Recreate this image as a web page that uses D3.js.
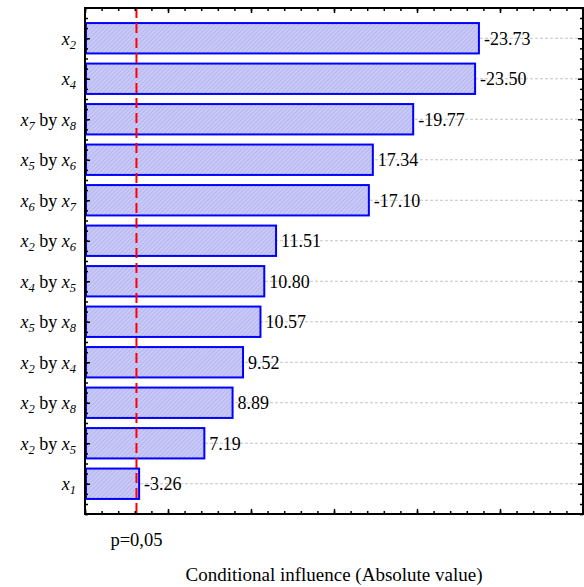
<!DOCTYPE html>
<html>
<head>
<meta charset="utf-8">
<script src="https://cdn.jsdelivr.net/npm/d3@7"></script>
<style>
  html, body { margin: 0; padding: 0; background: #fff; }
  svg { display: block; }
  text { font-family: "Liberation Serif", "Times New Roman", "DejaVu Serif", serif; fill: #000; }
</style>
</head>
<body>
<svg id="chart" width="584" height="587"></svg>
<script>
// ---- data ----
const categories = [
  [["x","2"]],
  [["x","4"]],
  [["x","7"],["x","8"]],
  [["x","5"],["x","6"]],
  [["x","6"],["x","7"]],
  [["x","2"],["x","6"]],
  [["x","4"],["x","5"]],
  [["x","5"],["x","8"]],
  [["x","2"],["x","4"]],
  [["x","2"],["x","8"]],
  [["x","2"],["x","5"]],
  [["x","1"]]
];
const values = [-23.73, -23.50, -19.77, 17.34, -17.10, 11.51, 10.80, 10.57, 9.52, 8.89, 7.19, -3.26];
const pValue = 3.1;
const pLabel = "p=0,05";
const xTitle = "Conditional influence (Absolute value)";
const xMajorTicks = [0, 5, 10, 15, 20, 25, 30];
const xMinorTicks = d3.range(0, 31, 1);

// ---- layout ----
const L = 85, R = 583, T = 8, B = 514;
const svg = d3.select("#chart");

const keys = categories.map((c, i) => "c" + i);
const x = d3.scaleLinear().domain([0, 30]).range([L, R]);
const y = d3.scaleBand().domain(keys).range([18, 504]).paddingInner(0.25).paddingOuter(0.125);
const yIdx = d3.scaleLinear().domain([-0.5, 11.5]).range([18, 504]);
const yMinor = d3.range(-0.75, 11.76, 0.25);

// hatch pattern
const defs = svg.append("defs");
const pat = defs.append("pattern").attr("id", "hatch").attr("patternUnits", "userSpaceOnUse")
  .attr("width", 3).attr("height", 3).attr("patternTransform", "rotate(-45)");
pat.append("rect").attr("width", 3).attr("height", 3).attr("fill", "#caCAf8");
pat.append("line").attr("x1", 0).attr("y1", 0).attr("x2", 3).attr("y2", 0)
  .attr("stroke", "#a2a2e8").attr("stroke-width", 1.1);

// gridlines
svg.append("g").selectAll("line").data(keys).join("line")
  .attr("x1", L).attr("x2", R)
  .attr("y1", d => y(d) + y.bandwidth() / 2).attr("y2", d => y(d) + y.bandwidth() / 2)
  .attr("stroke", "#c4c4c4").attr("stroke-width", 1).attr("stroke-dasharray", "3,2");

// bars
svg.append("g").selectAll("rect").data(values).join("rect")
  .attr("x", x(0) + 1)
  .attr("y", (d, i) => y(keys[i]))
  .attr("width", d => x(Math.abs(d)) - x(0) - 1)
  .attr("height", y.bandwidth())
  .attr("fill", "url(#hatch)")
  .attr("stroke", "#0000ff").attr("stroke-width", 2);

// value labels
svg.append("g").selectAll("text").data(values).join("text")
  .attr("x", d => x(Math.abs(d)) + 5)
  .attr("y", (d, i) => y(keys[i]) + y.bandwidth() / 2)
  .attr("dy", "0.35em")
  .attr("font-size", 18)
  .text(d => d.toFixed(2));

// p line
svg.append("line")
  .attr("x1", x(pValue)).attr("x2", x(pValue)).attr("y1", T).attr("y2", B)
  .attr("stroke", "#ff0000").attr("stroke-width", 2).attr("stroke-dasharray", "10,5");

// axes frame with inward ticks
function addAxis(axisFn, tr, vals, scale, size) {
  const g = svg.append("g").attr("transform", tr)
    .call(axisFn(scale).tickValues(vals).tickSize(size).tickSizeOuter(0).tickFormat(""));
  g.select(".domain").remove();
  g.selectAll("text").remove();
  g.selectAll("line").attr("stroke", "#000").attr("stroke-width", 1.5);
  return g;
}
addAxis(d3.axisBottom, `translate(0,${B})`, xMinorTicks, x, -3);
addAxis(d3.axisBottom, `translate(0,${B})`, xMajorTicks, x, -5);
addAxis(d3.axisTop, `translate(0,${T})`, xMinorTicks, x, -3);
addAxis(d3.axisTop, `translate(0,${T})`, xMajorTicks, x, -5);
addAxis(d3.axisLeft, `translate(${L},0)`, yMinor, yIdx, -3);
addAxis(d3.axisLeft, `translate(${L},0)`, d3.range(0, 12), yIdx, -5);
addAxis(d3.axisRight, `translate(${R},0)`, yMinor, yIdx, -3);
addAxis(d3.axisRight, `translate(${R},0)`, d3.range(0, 12), yIdx, -5);

svg.append("rect").attr("x", L).attr("y", T).attr("width", R - L).attr("height", B - T)
  .attr("fill", "none").attr("stroke", "#000").attr("stroke-width", 2);

// y labels
const lab = svg.append("g").selectAll("text").data(categories).join("text")
  .attr("x", L - 9)
  .attr("y", (d, i) => y(keys[i]) + y.bandwidth() / 2)
  .attr("dy", "0.35em")
  .attr("text-anchor", "end")
  .attr("font-size", 18);
lab.each(function(parts) {
  const t = d3.select(this);
  parts.forEach((p, j) => {
    if (j > 0) t.append("tspan").attr("dy", -4).text(" by ");
    t.append("tspan").attr("font-style", "italic").text(p[0]);
    t.append("tspan").attr("font-style", "italic").attr("font-size", 12.5).attr("dy", 4).text(p[1]);
  });
});

// p label
svg.append("text").attr("x", x(pValue)).attr("y", 546).attr("text-anchor", "middle")
  .attr("font-size", 18.5).text(pLabel);

// x title
svg.append("text").attr("x", (L + R) / 2).attr("y", 581).attr("text-anchor", "middle")
  .attr("font-size", 19).text(xTitle);
</script>
</body>
</html>
